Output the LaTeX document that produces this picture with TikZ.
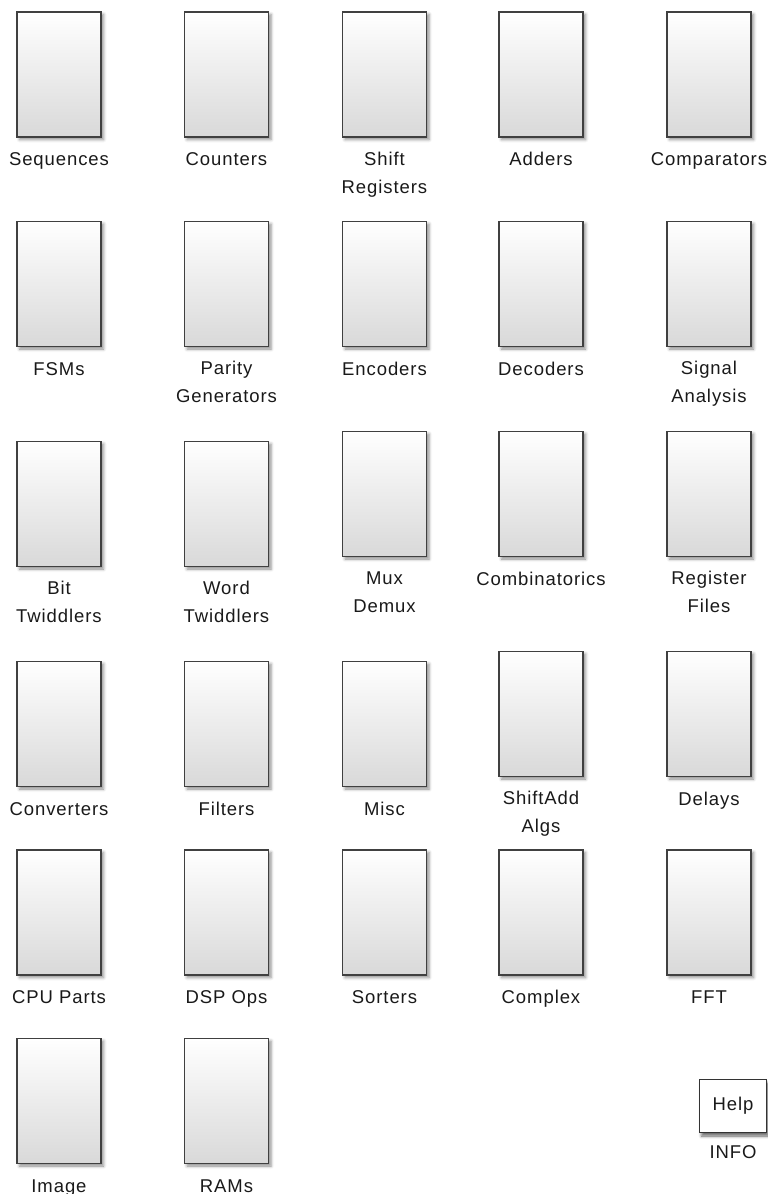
\documentclass[tikz,border=0pt]{standalone}
\usepackage{fontspec}
\setmainfont[LetterSpace=5]{Liberation Sans}
\usepackage{tikz}
\usetikzlibrary{positioning, shadows.blur}

\begin{document}
\begin{tikzpicture}[
    x=1pt, y=1pt,
    libblock/.style={
        rectangle, draw=black!75, line width=1.4pt,
        minimum width=84pt, minimum height=125pt, inner sep=0pt,
        top color=white, middle color=black!3, bottom color=black!15,
        blur shadow={shadow xshift=2.5pt, shadow yshift=-2.5pt,
            shadow blur radius=3pt, shadow opacity=45}
    },
    helpbox/.style={
        rectangle, draw=black!80, line width=1.4pt, fill=white,
        minimum width=67pt, minimum height=53pt, inner sep=0pt,
        font=\fontsize{18.5}{28}\selectfont, text=black!90,
        blur shadow={shadow xshift=2pt, shadow yshift=-3.5pt,
            shadow blur radius=3pt, shadow opacity=60}
    },
    lbl/.style={
        inner sep=0pt, align=center, text=black!90,
        font=\fontsize{18.5}{28}\selectfont,
        execute at begin node=\strut
    },
]
\useasboundingbox (0,0) rectangle (768,-1194);

%% Riga 1
\node[libblock] (seq) at (59,-74.5) {};
\node[lbl, below=8pt of seq] (seqlbl) {Sequences};
\node[libblock] (cnt) at (226.5,-74.5) {};
\node[lbl, below=8pt of cnt] (cntlbl) {Counters};
\node[libblock] (shreg) at (384.5,-74.5) {};
\node[lbl, below=14pt of shreg] (shreglbl) {Shift\\Registers};
\node[libblock] (add) at (541,-74.5) {};
\node[lbl, below=8pt of add] (addlbl) {Adders};
\node[libblock] (cmp) at (709,-74.5) {};
\node[lbl, below=8pt of cmp] (cmplbl) {Comparators};

%% Riga 2
\node[libblock] (fsm) at (59,-284) {};
\node[lbl, below=8pt of fsm] (fsmlbl) {FSMs};
\node[libblock] (par) at (226.5,-284) {};
\node[lbl, below=14pt of par] (parlbl) {Parity\\Generators};
\node[libblock] (enc) at (384.5,-284) {};
\node[lbl, below=8pt of enc] (enclbl) {Encoders};
\node[libblock] (dec) at (541,-284) {};
\node[lbl, below=8pt of dec] (declbl) {Decoders};
\node[libblock] (sig) at (709,-284) {};
\node[lbl, below=14pt of sig] (siglbl) {Signal\\Analysis};

%% Riga 3
\node[libblock] (bit) at (59,-504) {};
\node[lbl, below=14pt of bit] (bitlbl) {Bit\\Twiddlers};
\node[libblock] (word) at (226.5,-504) {};
\node[lbl, below=14pt of word] (wordlbl) {Word\\Twiddlers};
\node[libblock] (mux) at (384.5,-494) {};
\node[lbl, below=14pt of mux] (muxlbl) {Mux\\Demux};
\node[libblock] (comb) at (541,-494) {};
\node[lbl, below=8pt of comb] (comblbl) {Combinatorics};
\node[libblock] (regf) at (709,-494) {};
\node[lbl, below=14pt of regf] (regflbl) {Register\\Files};

%% Riga 4
\node[libblock] (conv) at (59,-724) {};
\node[lbl, below=8pt of conv] (convlbl) {Converters};
\node[libblock] (filt) at (226.5,-724) {};
\node[lbl, below=8pt of filt] (filtlbl) {Filters};
\node[libblock] (misc) at (384.5,-724) {};
\node[lbl, below=8pt of misc] (misclbl) {Misc};
\node[libblock] (shadd) at (541,-714) {};
\node[lbl, below=14pt of shadd] (shaddlbl) {ShiftAdd\\Algs};
\node[libblock] (dly) at (709,-714) {};
\node[lbl, below=8pt of dly] (dlylbl) {Delays};

%% Riga 5
\node[libblock] (cpu) at (59,-912.5) {};
\node[lbl, below=8pt of cpu] (cpulbl) {CPU Parts};
\node[libblock] (dsp) at (226.5,-912.5) {};
\node[lbl, below=8pt of dsp] (dsplbl) {DSP Ops};
\node[libblock] (sort) at (384.5,-912.5) {};
\node[lbl, below=8pt of sort] (sortlbl) {Sorters};
\node[libblock] (cplx) at (541,-912.5) {};
\node[lbl, below=8pt of cplx] (cplxlbl) {Complex};
\node[libblock] (fft) at (709,-912.5) {};
\node[lbl, below=8pt of fft] (fftlbl) {FFT};

%% Riga 6
\node[libblock] (img) at (59,-1101) {};
\node[lbl, below=8pt of img] (imglbl) {Image};
\node[libblock] (ram) at (226.5,-1101) {};
\node[lbl, below=8pt of ram] (ramlbl) {RAMs};

%% Blocco INFO
\node[helpbox] (help) at (733,-1106) {Help};
\node[lbl, below=5pt of help] (helplbl) {INFO};

\end{tikzpicture}
\end{document}
